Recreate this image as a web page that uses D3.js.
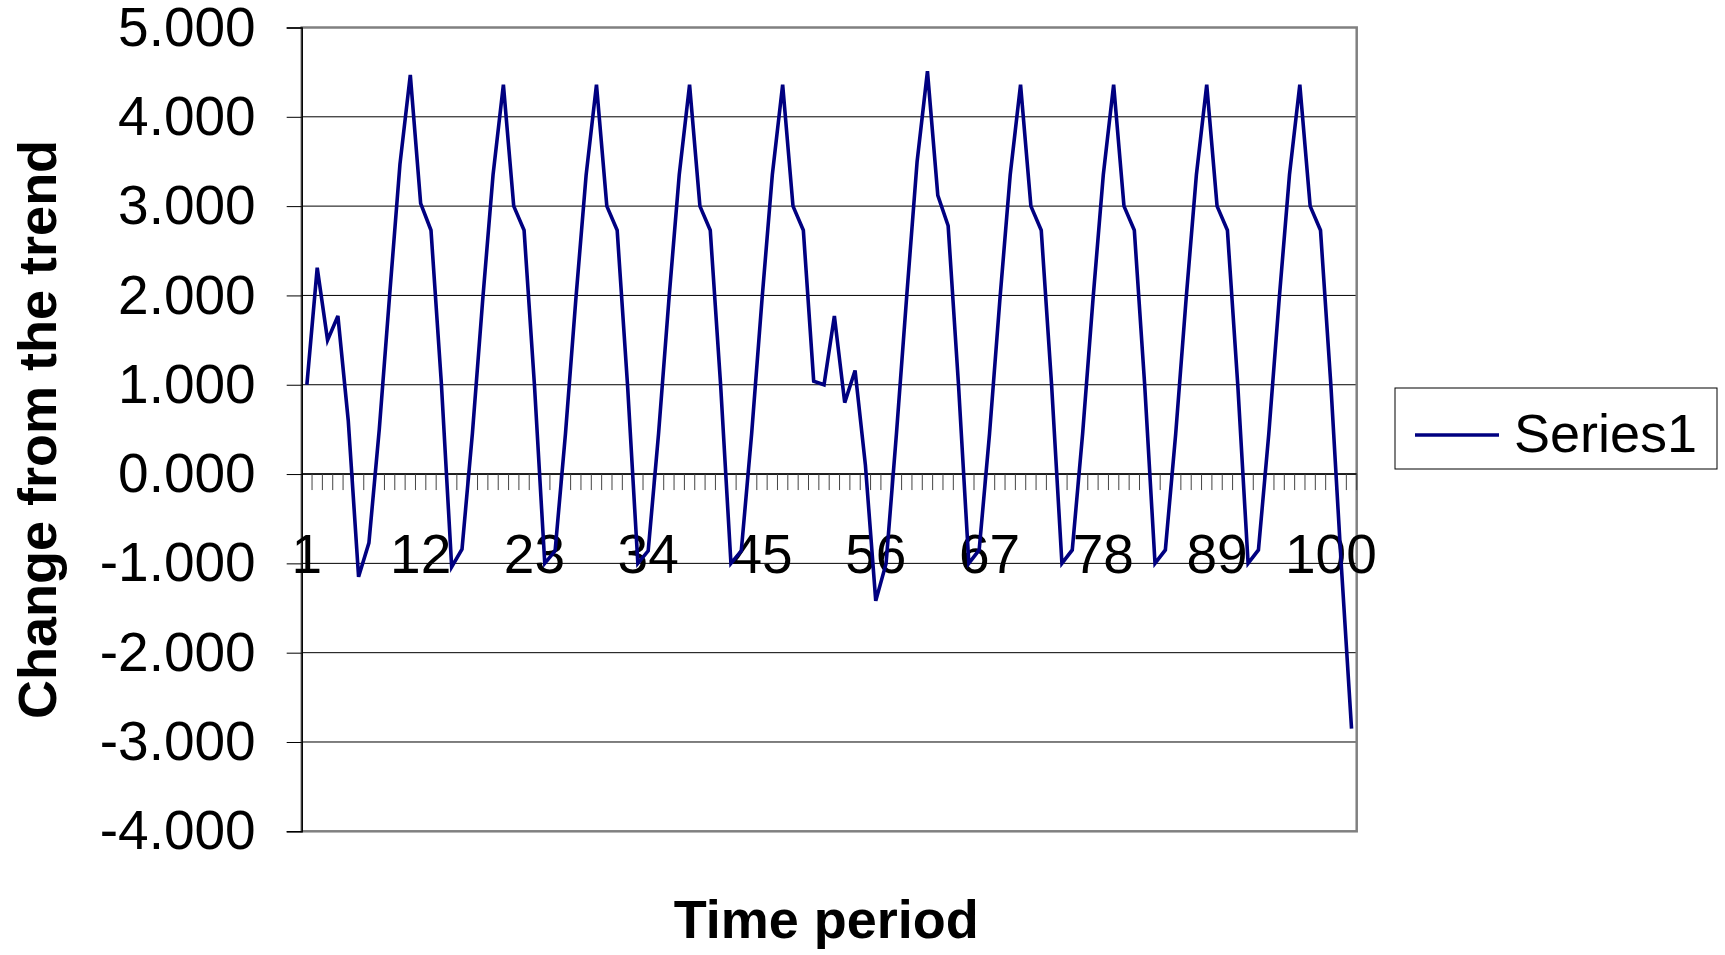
<!DOCTYPE html>
<html>
<head>
<meta charset="utf-8">
<script src="https://cdn.jsdelivr.net/npm/d3@7/dist/d3.min.js"></script>
<style>
  html, body { margin: 0; padding: 0; background: #ffffff; }
  svg { display: block; }
  text { font-family: "Liberation Sans", Arial, sans-serif; fill: #000; }
</style>
</head>
<body>
<svg id="chart" width="1725" height="955"></svg>
<script>
// Time periods 1..102 on the category axis
const periods = d3.range(1, 103);

// Change from the trend for each period (Series1)
const series1 = [
  1.00, 2.31, 1.50, 1.77, 0.60, -1.15, -0.77, 0.50, 2.00, 3.47,
  4.47, 3.03, 2.73, 1.02, -1.04, -0.84, 0.45, 1.95, 3.35, 4.36,
  3.00, 2.73, 1.00, -1.00, -0.86, 0.45, 1.95, 3.35, 4.36, 3.00,
  2.73, 1.00, -1.00, -0.86, 0.45, 1.95, 3.35, 4.36, 3.00, 2.73,
  1.00, -1.00, -0.86, 0.45, 1.95, 3.35, 4.36, 3.00, 2.73, 1.04,
  1.00, 1.77, 0.80, 1.16, 0.10, -1.42, -1.00, 0.45, 2.00, 3.50,
  4.51, 3.12, 2.78, 1.00, -1.00, -0.85, 0.45, 1.95, 3.35, 4.36,
  3.00, 2.73, 1.00, -1.00, -0.85, 0.45, 1.95, 3.35, 4.36, 3.00,
  2.73, 1.00, -1.00, -0.85, 0.45, 1.95, 3.35, 4.36, 3.00, 2.73,
  1.00, -1.00, -0.85, 0.45, 1.95, 3.35, 4.36, 3.00, 2.73, 1.00,
  -1.00, -2.85
];

// Axis ticks and labels
const xTickLabels = [1, 12, 23, 34, 45, 56, 67, 78, 89, 100];
const yTicks = [-4, -3, -2, -1, 0, 1, 2, 3, 4, 5];
const yTickLabels = ["-4.000", "-3.000", "-2.000", "-1.000", "0.000",
                     "1.000", "2.000", "3.000", "4.000", "5.000"];

const seriesName = "Series1";
const xTitle = "Time period";
const yTitle = "Change from the trend";

// Plot area
const plot = { left: 301.7, right: 1356.7, top: 27.5, bottom: 831.3 };
const svg = d3.select("#chart");

svg.append("rect").attr("width", 1725).attr("height", 955).attr("fill", "#fff");

const x = d3.scaleBand().domain(periods).range([plot.left, plot.right]).padding(0);
const y = d3.scaleLinear().domain([-4, 5]).range([plot.bottom, plot.top]);
const cx = d => x(d) + x.bandwidth() / 2;

// Horizontal gridlines
svg.append("g")
  .selectAll("line")
  .data(yTicks.filter(t => t !== -4 && t !== 5))
  .join("line")
  .attr("x1", plot.left).attr("x2", plot.right)
  .attr("y1", d => y(d)).attr("y2", d => y(d))
  .attr("stroke", "#000").attr("stroke-width", 1);

// Plot-area frame (grey)
svg.append("rect")
  .attr("x", plot.left).attr("y", plot.top)
  .attr("width", plot.right - plot.left).attr("height", plot.bottom - plot.top)
  .attr("fill", "none").attr("stroke", "#808080").attr("stroke-width", 2.5);

// Y axis with outward ticks
const yAxis = d3.axisLeft(y)
  .tickValues(yTicks)
  .tickSize(15)
  .tickPadding(31)
  .tickFormat((d, i) => yTickLabels[i]);

const gy = svg.append("g").attr("transform", `translate(${plot.left},0)`).call(yAxis);
gy.select(".domain").attr("stroke", "#000").attr("stroke-width", 1.5);
gy.selectAll(".tick line").attr("stroke", "#000").attr("stroke-width", 1);
gy.selectAll(".tick text")
  .style("font-family", "'Liberation Sans', Arial, sans-serif")
  .style("font-size", "55px")
  .attr("fill", "#000");

// X axis at zero: baseline plus a tick between every category
const boundaries = periods.slice(1).map(d => x(d)).concat([plot.right]);
const gx = svg.append("g");
gx.append("line")
  .attr("x1", plot.left).attr("x2", plot.right)
  .attr("y1", y(0)).attr("y2", y(0))
  .attr("stroke", "#000").attr("stroke-width", 1.5);
gx.selectAll("line.tick")
  .data(boundaries)
  .join("line")
  .attr("class", "tick")
  .attr("x1", d => d).attr("x2", d => d)
  .attr("y1", y(0)).attr("y2", y(0) + 16)
  .attr("stroke", "#444").attr("stroke-width", 1);
gx.selectAll("text")
  .data(xTickLabels)
  .join("text")
  .attr("x", d => cx(d))
  .attr("y", y(0) + 99)
  .attr("text-anchor", "middle")
  .style("font-size", "55px")
  .text(d => d);

// Series line
const line = d3.line()
  .x((d, i) => cx(periods[i]))
  .y(d => y(d));

svg.append("path")
  .datum(series1)
  .attr("d", line)
  .attr("fill", "none")
  .attr("stroke", "#000080")
  .attr("stroke-width", 3.6)
  .attr("stroke-linejoin", "miter");

// Axis titles
svg.append("text")
  .attr("transform", `translate(56, ${(plot.top + plot.bottom) / 2}) rotate(-90)`)
  .attr("text-anchor", "middle")
  .style("font-size", "54px")
  .style("font-weight", "bold")
  .text(yTitle);

svg.append("text")
  .attr("x", (plot.left + plot.right) / 2 - 3)
  .attr("y", 938)
  .attr("text-anchor", "middle")
  .style("font-size", "54px")
  .style("font-weight", "bold")
  .text(xTitle);

// Legend
const lg = svg.append("g");
lg.append("rect")
  .attr("x", 1395).attr("y", 388).attr("width", 322).attr("height", 81)
  .attr("fill", "#fff").attr("stroke", "#000").attr("stroke-width", 1);
lg.append("line")
  .attr("x1", 1415).attr("x2", 1499).attr("y1", 435).attr("y2", 435)
  .attr("stroke", "#000080").attr("stroke-width", 3.6);
lg.append("text")
  .attr("x", 1514).attr("y", 452)
  .style("font-size", "54px")
  .text(seriesName);
</script>
</body>
</html>
